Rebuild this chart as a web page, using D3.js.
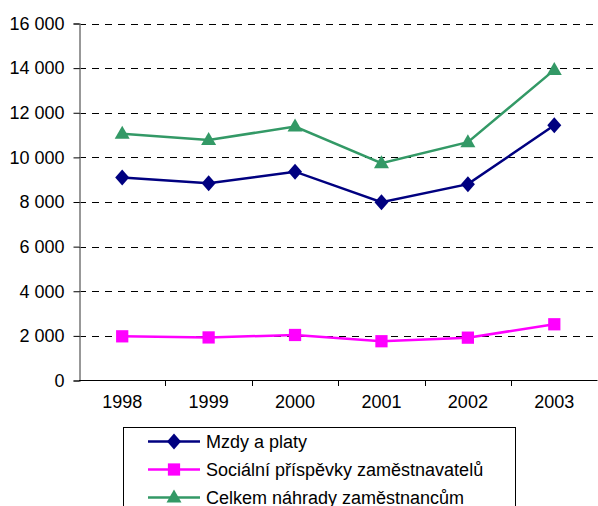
<!DOCTYPE html>
<meta charset="utf-8">
<head>
<style>
  body { margin: 0; background: #fff; }
  svg text { font-family: Arial, "Liberation Sans", sans-serif; }
</style>
</head>
<body>
<script src="https://cdn.jsdelivr.net/npm/d3@7/dist/d3.min.js"></script>
<svg id="graf"></svg>
<script>

var roky = ["1998", "1999", "2000", "2001", "2002", "2003"];
var mzdy = [9100, 8840, 9360, 7990, 8800, 11440];
var socialni = [1980, 1930, 2040, 1760, 1920, 2520];
var celkem = [11060, 10780, 11380, 9740, 10680, 13920];
var yTicks = [0, 2000, 4000, 6000, 8000, 10000, 12000, 14000, 16000];

var nazvy = ["Mzdy a platy", "Sociální příspěvky zaměstnavatelů", "Celkem náhrady zaměstnancům"];

var width = 598, height = 506;

var svg = d3.select("#graf")
  .attr("width", width)
  .attr("height", height);

var x = d3.scaleBand().domain(roky).range([79, 597.5]);
var y = d3.scaleLinear().domain([0, 16000]).range([380.5, 23.5]);

var cz = d3.formatLocale({decimal: ",", thousands: " ", grouping: [3], currency: ["", ""]});
var fmt = cz.format(",d");

// mrizka
svg.append("g")
  .selectAll("line")
  .data(yTicks.filter(function(d){ return d > 0; }))
  .enter().append("line")
  .attr("x1", 79).attr("x2", 597.5)
  .attr("y1", function(d){ return Math.round(y(d)) + 0.5; })
  .attr("y2", function(d){ return Math.round(y(d)) + 0.5; })
  .attr("stroke", "#000")
  .attr("stroke-width", 1)
  .attr("stroke-dasharray", "7,6");

// osa y
var osaY = svg.append("g")
  .attr("transform", "translate(79.5,0)")
  .call(d3.axisLeft(y).tickValues(yTicks).tickFormat(fmt).tickSize(6).tickPadding(9));
osaY.select(".domain").attr("stroke", "#777").attr("stroke-width", 1.5);
osaY.selectAll(".tick line").attr("stroke", "#000");
osaY.selectAll("text").attr("font-size", 18).attr("fill", "#000")
  .attr("font-family", "Arial, 'Liberation Sans', sans-serif");

// osa x
var osaX = svg.append("g")
  .attr("transform", "translate(0,380.5)")
  .call(d3.axisBottom(x).tickSize(0).tickPadding(15));
osaX.select(".domain").remove();
osaX.selectAll("text").attr("font-size", 18).attr("fill", "#000")
  .attr("font-family", "Arial, 'Liberation Sans', sans-serif");

svg.append("line")
  .attr("x1", 79).attr("x2", 597.5)
  .attr("y1", 380.5).attr("y2", 380.5)
  .attr("stroke", "#000");

var hranice = roky.map(function(d){ return x(d); }).concat([x.range()[1]]);
svg.append("g").selectAll("line")
  .data(hranice.slice(1))
  .enter().append("line")
  .attr("x1", function(d){ return Math.round(d) + 0.5; })
  .attr("x2", function(d){ return Math.round(d) + 0.5; })
  .attr("y1", 380.5).attr("y2", 386)
  .attr("stroke", "#000");

var cx = function(d, i){ return x(roky[i]) + x.bandwidth() / 2; };

var rady = [
  {hodnoty: mzdy, barva: "#000080", symbol: d3.symbolDiamond, vel: 110},
  {hodnoty: socialni, barva: "#ff00ff", symbol: d3.symbolSquare, vel: 150},
  {hodnoty: celkem, barva: "#339966", symbol: d3.symbolTriangle, vel: 110}
];

function znacka(sel, r) {
  if (r.symbol === d3.symbolDiamond) {
    sel.attr("d", "M0,-8L7,0L0,8L-7,0Z");
  } else if (r.symbol === d3.symbolTriangle) {
    sel.attr("d", "M0,-8L7.5,5L-7.5,5Z");
  } else {
    sel.attr("d", d3.symbol().type(r.symbol).size(r.vel)());
  }
}

var linka = d3.line()
  .x(function(d, i){ return cx(d, i); })
  .y(function(d){ return y(d); });

rady.forEach(function(r){
  svg.append("path")
    .datum(r.hodnoty)
    .attr("d", linka)
    .attr("fill", "none")
    .attr("stroke", r.barva)
    .attr("stroke-width", 2.5);

  svg.append("g").selectAll("path")
    .data(r.hodnoty)
    .enter().append("path")
    .call(znacka, r)
    .attr("transform", function(d, i){ return "translate(" + cx(d, i) + "," + y(d) + ")"; })
    .attr("fill", r.barva);
});

// legenda
var leg = svg.append("g");
leg.append("rect")
  .attr("x", 123.5).attr("y", 427.5)
  .attr("width", 392).attr("height", 120)
  .attr("fill", "#fff")
  .attr("stroke", "#000");

rady.forEach(function(r, i){
  var ly = 441.5 + i * 28;
  leg.append("line")
    .attr("x1", 148).attr("x2", 200)
    .attr("y1", ly).attr("y2", ly)
    .attr("stroke", r.barva)
    .attr("stroke-width", 2.5);
  leg.append("path")
    .call(znacka, r)
    .attr("transform", "translate(174," + ly + ")")
    .attr("fill", r.barva);
  leg.append("text")
    .attr("x", 206).attr("y", ly + 6.5)
    .attr("font-size", 18)
    .attr("fill", "#000")
    .text(nazvy[i]);
});

</script>
</body>
